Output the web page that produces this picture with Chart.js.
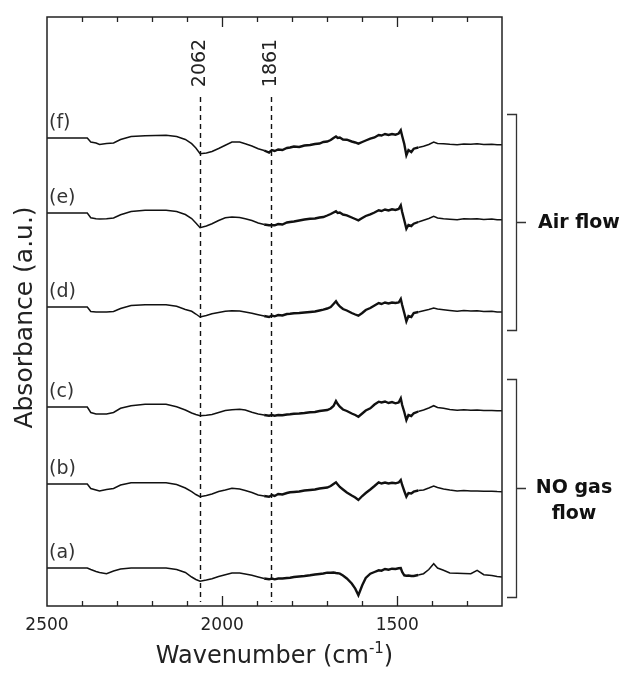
<!DOCTYPE html>
<html>
<head>
<meta charset="utf-8">
<script src="https://cdn.jsdelivr.net/npm/chart.js@4/dist/chart.umd.min.js"></script>
<style>
    body { margin: 0; background: #fff; }
</style>
</head>
<body>
<canvas id="ir-graph" width="622" height="675"></canvas>
<script>
// wavenumbers (cm-1) shared by all spectra
const wavenumbers = [2500, 2385, 2375, 2360, 2350, 2330, 2310, 2290, 2260, 2220, 2160, 2130, 2105, 2087, 2075, 2063, 2045, 2029, 2010, 1991, 1972, 1950, 1934, 1915, 1897, 1880, 1866, 1858, 1850, 1840, 1828, 1815, 1806, 1795, 1780, 1765, 1749, 1735, 1722, 1711, 1700, 1690, 1682, 1675, 1670, 1664, 1655, 1644, 1630, 1620, 1611, 1600, 1590, 1577, 1565, 1553, 1545, 1535, 1525, 1515, 1505, 1496, 1490, 1486, 1480, 1474, 1468, 1460, 1453, 1440, 1425, 1410, 1396, 1385, 1368, 1350, 1329, 1310, 1290, 1272, 1253, 1230, 1215, 1201];

// relative absorbance (x 10^-3 a.u.)
const spectrumA = [0, 0, -1.5, -3.5, -4.5, -5.7, -3, -1, 0, 0, 0, -1.5, -4.5, -9, -11.5, -13.3, -12, -10.7, -8.5, -6.7, -5, -5, -6, -7.3, -9, -10.5, -11.3, -10.5, -11.3, -10.5, -10.5, -10, -9.7, -9, -8.5, -8, -7.3, -6.5, -6, -5.5, -4.7, -4.7, -4.5, -5, -5.2, -5.7, -7.5, -10.5, -15.5, -20.7, -27.3, -17.3, -10, -5.7, -4, -2.3, -2.7, -1, -1.7, -0.7, -1, -0.3, 0, -4, -7.3, -7.7, -7.5, -8, -8, -7, -5.7, -1.5, 4.3, 0, -2.3, -5, -5.3, -5.5, -5.7, -2.3, -6.7, -7.5, -8.5, -9];
const spectrumB = [0, 0, -4.5, -6, -7, -5.5, -4.5, -1, 1.3, 1.3, 1.3, -0.5, -4, -7.7, -10.5, -12.7, -11.5, -10, -7.5, -6, -4.3, -5, -6.5, -8.5, -11, -12, -12.7, -11, -12, -10, -10.5, -9, -8.3, -8, -7.5, -6.5, -6, -5.5, -4.5, -4, -3.5, -2, 0, 1.7, -0.5, -3, -5.5, -8.5, -11.5, -13.5, -16, -12, -9, -5.5, -2, 1.7, 0.5, 1.5, 0.5, 1.2, 0.7, 1.5, 4, -1, -7, -12.7, -9, -9.5, -7.7, -6.5, -6, -4, -2, -3.5, -5, -6, -7, -6.5, -7, -7, -7.3, -7.2, -7.6, -7.7];
const spectrumC = [0, 0, -5.5, -7, -7, -7, -5.5, -1.3, 1.3, 2.7, 2.7, 0.3, -3, -6, -7.5, -8.7, -8.3, -7.5, -5.5, -3.5, -2.7, -2.3, -3, -5.3, -7, -8, -8.7, -8, -8.7, -8, -8.3, -7.5, -7.3, -6.8, -6.5, -6, -5.3, -5, -4, -3.5, -3, -1.5, 1, 6, 3, 0.3, -2.5, -4, -6.5, -8, -9.7, -6.5, -3.5, -1.3, 2.5, 5.3, 4.5, 5.5, 4, 5, 3.7, 4.5, 8.7, 2, -5, -13, -8, -9, -6.3, -4.5, -3, -1, 1.3, -0.5, -1.3, -2.5, -3.3, -2.8, -3.2, -3, -3.6, -3.4, -3.8, -3.7];
const spectrumD = [0, 0, -4.5, -5, -5, -5, -4.5, -1.5, 1.5, 2.3, 2.3, 0.7, -2.5, -4.3, -7, -10, -8.5, -6.7, -5.5, -4.3, -3.7, -4, -5, -6.2, -7.7, -9, -10, -8.5, -9.3, -8, -8.5, -7, -6.7, -6.2, -6, -5.5, -5, -4.5, -3.5, -2.7, -1.5, 0, 3, 5.7, 3, 0.7, -2, -3.5, -6, -7.5, -8.7, -6, -3, -1, 1.5, 4, 3, 4.5, 3.5, 4.5, 4, 4.5, 8, 2, -6, -14.3, -9, -10, -6, -5, -3.7, -2.5, -1, -2, -2.7, -3.5, -4.3, -3.5, -4, -3.7, -4.5, -4.2, -5, -5];
const spectrumE = [0, 0, -4.7, -5.7, -6, -5.7, -5, -1.7, 1.5, 2.7, 2.7, 1.5, -1.5, -5.5, -10, -14.7, -13, -10.7, -7.5, -4.7, -4, -4.5, -5.7, -7.5, -10, -11.5, -12.3, -12.3, -12.3, -11, -11.5, -9.5, -9, -8.5, -7.5, -6.5, -5.7, -5.5, -4.5, -4, -2.5, -1, 0.5, 1.7, 0, 0.5, -1.5, -2.3, -4.5, -6, -7.3, -5, -3, -1.3, 0.5, 2.7, 2, 3.5, 2.5, 3.7, 3, 4, 7.7, 1, -7.3, -15.7, -12, -13, -10.7, -9, -7.3, -5.5, -3.3, -5, -5.7, -6.2, -6.7, -5.8, -6, -5.7, -6.5, -6, -6.8, -6.7];
const spectrumF = [0, 0, -4, -5, -6.5, -5.5, -5, -1.5, 1.5, 2.3, 2.7, 1.5, -1.5, -5.7, -10, -15.7, -15, -13.5, -10.5, -7.3, -4, -4, -5.7, -8, -10.7, -12.5, -14.5, -12, -13, -11.5, -12, -10, -9.5, -8.5, -9, -7.5, -7, -6, -5.5, -4, -3.5, -2, 0, 1.5, 0, 0.5, -1.5, -1.7, -3.5, -4.5, -5.7, -4, -2.5, -0.7, 0.5, 3, 2.5, 4, 3, 4, 3.3, 4.5, 7.7, 2, -6, -17.3, -12, -14, -10.7, -9.5, -8.3, -6.5, -4, -5.5, -5.7, -6.3, -6.7, -6, -6.2, -5.7, -6.5, -6.2, -6.8, -6.7];

const spectra = [spectrumA, spectrumB, spectrumC, spectrumD, spectrumE, spectrumF];
const spectrumLabels = ['(a)', '(b)', '(c)', '(d)', '(e)', '(f)'];
// vertical stacking offset of each spectrum (x 10^-3 a.u.)
const offsets = [38, 122, 199, 299, 393, 468];

const tickLabels = [2500, 2000, 1500];
const markedBands = [2062, 1861];
const flowGroups = ['NO gas flow', 'Air flow'];

const ctx = document.getElementById('ir-graph').getContext('2d');

const decorations = {
    id: 'decorations',
    afterDraw(chart) {
        const c = chart.ctx;
        const area = chart.chartArea;
        const xs = chart.scales.x;
        const ys = chart.scales.y;

        c.save();
        c.setLineDash([]);
        c.strokeStyle = '#222';
        c.fillStyle = '#222';

        // frame
        c.lineWidth = 1.5;
        c.strokeRect(area.left, area.top, area.right - area.left, area.bottom - area.top);

        // inward ticks on top and bottom, every 100 cm-1
        c.lineWidth = 1.3;
        c.beginPath();
        for (let v = 2400; v >= 1300; v -= 100) {
            const px = Math.round(xs.getPixelForValue(v)) + 0.5;
            const len = v % 500 === 0 ? 10 : 5;
            c.moveTo(px, area.bottom);
            c.lineTo(px, area.bottom - len);
            c.moveTo(px, area.top);
            c.lineTo(px, area.top + len);
        }
        c.stroke();

        // tick labels
        c.font = '17px "DejaVu Sans"';
        c.textAlign = 'center';
        c.textBaseline = 'middle';
        tickLabels.forEach(v => {
            c.fillText(String(v), xs.getPixelForValue(v), area.bottom + 20);
        });

        // x axis title with superscript
        const mid = (area.left + area.right) / 2;
        c.textBaseline = 'alphabetic';
        c.textAlign = 'left';
        const main = 'Wavenumber (cm';
        c.font = '24px "DejaVu Sans"';
        const w1 = c.measureText(main).width;
        const w3 = c.measureText(')').width;
        c.font = '15px "DejaVu Sans"';
        const w2 = c.measureText('-1').width;
        let tx = mid - (w1 + w2 + w3) / 2;
        c.font = '24px "DejaVu Sans"';
        c.fillText(main, tx, 663);
        c.font = '15px "DejaVu Sans"';
        c.fillText('-1', tx + w1, 653);
        c.font = '24px "DejaVu Sans"';
        c.fillText(')', tx + w1 + w2, 663);

        // y axis title
        c.save();
        c.translate(25, (area.top + area.bottom) / 2 + 6);
        c.rotate(-Math.PI / 2);
        c.textAlign = 'center';
        c.textBaseline = 'middle';
        c.font = '25px "DejaVu Sans"';
        c.fillText('Absorbance (a.u.)', 0, 0);
        c.restore();

        // spectrum labels
        c.fillStyle = '#333';
        c.font = '19px "DejaVu Sans"';
        c.textAlign = 'left';
        c.textBaseline = 'middle';
        spectrumLabels.forEach((lab, i) => {
            c.fillText(lab, area.left + 2, ys.getPixelForValue(offsets[i]) - 15);
        });

        // dashed band markers
        c.strokeStyle = '#111';
        c.fillStyle = '#222';
        c.lineWidth = 1.4;
        c.setLineDash([5, 4]);
        markedBands.forEach(v => {
            const px = Math.round(xs.getPixelForValue(v)) + 0.5;
            c.beginPath();
            c.moveTo(px, 97);
            c.lineTo(px, area.bottom - 4);
            c.stroke();
        });
        c.setLineDash([]);
        markedBands.forEach(v => {
            c.save();
            c.translate(xs.getPixelForValue(v), 63);
            c.rotate(-Math.PI / 2);
            c.textAlign = 'center';
            c.textBaseline = 'middle';
            c.font = '19px "DejaVu Sans"';
            c.fillText(String(v), 0, 0);
            c.restore();
        });

        // brackets for the gas flow groups
        const brackets = [
            { top: 379, bottom: 597, lines: ['NO gas', 'flow'] },
            { top: 114, bottom: 330, lines: [flowGroups[1]] }
        ];
        c.strokeStyle = '#333';
        c.lineWidth = 1.3;
        brackets.forEach(b => {
            const bx = 516.5;
            const midY = Math.round((b.top + b.bottom) / 2) + 0.5;
            c.beginPath();
            c.moveTo(507, b.top + 0.5);
            c.lineTo(bx, b.top + 0.5);
            c.lineTo(bx, b.bottom + 0.5);
            c.lineTo(507, b.bottom + 0.5);
            c.moveTo(bx, midY);
            c.lineTo(526, midY);
            c.stroke();

            c.font = 'bold 19px "DejaVu Sans"';
            c.textBaseline = 'middle';
            c.fillStyle = '#111';
            if (b.lines.length === 1) {
                c.textAlign = 'left';
                c.fillText(b.lines[0], 538, midY + 1);
            } else {
                c.textAlign = 'center';
                c.fillText(b.lines[0], 574, midY);
                c.fillText(b.lines[1], 574, midY + 26);
            }
        });

        c.restore();
    }
};

// the noisy fingerprint region is drawn with a heavier stroke
const noisyWidth = seg => (seg.p1.parsed.x < 1870 && seg.p0.parsed.x > 1440) ? 2.4 : 1.5;

const irChart = new Chart(ctx, {
    type: 'line',
    data: {
        datasets: spectra.map((s, i) => ({
            label: spectrumLabels[i],
            data: wavenumbers.map((w, j) => ({ x: w, y: offsets[i] + s[j] })),
            borderColor: '#111',
            borderWidth: 1.5,
            pointRadius: 0,
            tension: 0,
            fill: false,
            segment: { borderWidth: noisyWidth }
        }))
    },
    options: {
        responsive: false,
        animation: false,
        layout: {
            padding: { left: 47, right: 120, top: 17, bottom: 69 }
        },
        scales: {
            x: {
                type: 'linear',
                reverse: true,
                min: 1201,
                max: 2500,
                display: false
            },
            y: {
                min: 0,
                max: 589,
                display: false
            }
        },
        plugins: {
            legend: { display: false },
            tooltip: { enabled: false }
        }
    },
    plugins: [decorations]
});
</script>
</body>
</html>
